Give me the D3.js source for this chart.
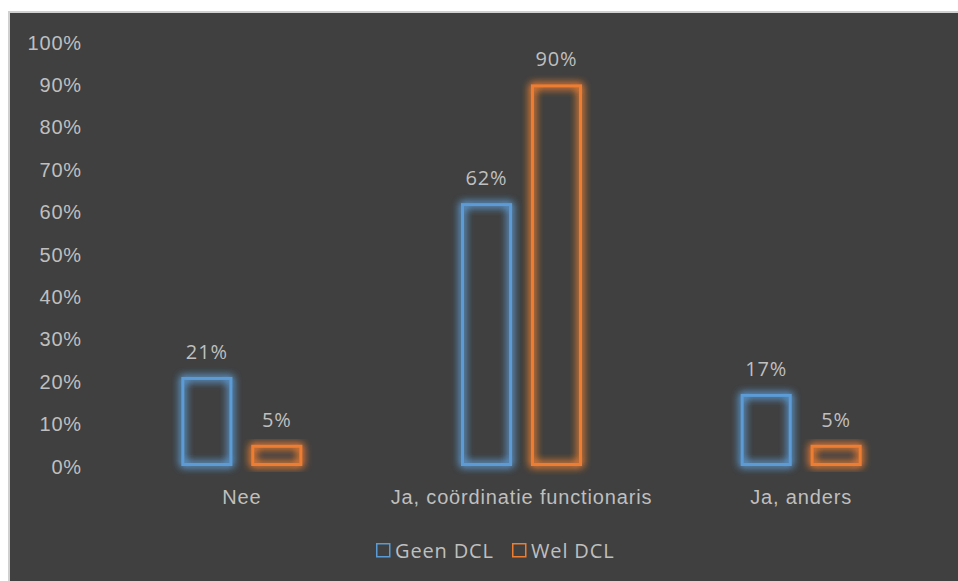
<!DOCTYPE html>
<html>
<head>
<meta charset="utf-8">
<script src="https://cdn.jsdelivr.net/npm/d3@7"></script>
<style>
  body { margin: 0; background: #fff; }
  svg { display: block; }
</style>
</head>
<body>
<div id="viz"></div>
<script>
const categories = ['Nee', 'Ja, coördinatie functionaris', 'Ja, anders'];
const seriesNames = ['Geen DCL', 'Wel DCL'];
const geenDcl = [0.21, 0.62, 0.17];
const welDcl = [0.05, 0.90, 0.05];
const yTicks = [0, 0.1, 0.2, 0.3, 0.4, 0.5, 0.6, 0.7, 0.8, 0.9, 1.0];

const W = 958, H = 581;
const bgColour = '#404040';
const textColour = '#bfbfbf';
const colours = ['#5b9bd5', '#ed7d31'];
const fontSize = '20px';
const spacing = '0.85px';

const plot = { left: 102, right: 941, top: 42, bottom: 466 };

const svg = d3.select('#viz').append('svg')
    .attr('width', W)
    .attr('height', H)
    .style('font-family', '"Open Sans", "Noto Sans", sans-serif')
    .style('letter-spacing', spacing);

// glow filter
const defs = svg.append('defs');
const glow = defs.append('filter')
    .attr('id', 'glow')
    .attr('x', '-40%').attr('y', '-40%')
    .attr('width', '180%').attr('height', '180%');
glow.append('feGaussianBlur')
    .attr('in', 'SourceGraphic')
    .attr('stdDeviation', 4)
    .attr('result', 'blur');
glow.append('feComponentTransfer')
    .attr('in', 'blur')
    .attr('result', 'soft')
    .append('feFuncA').attr('type', 'linear').attr('slope', 2.2);
const merge = glow.append('feMerge');
merge.append('feMergeNode').attr('in', 'soft');
merge.append('feMergeNode').attr('in', 'SourceGraphic');

// chart area frame
svg.append('rect')
    .attr('x', 8).attr('y', 11)
    .attr('width', W - 8).attr('height', H - 11)
    .attr('fill', '#d0d0d0');
svg.append('rect')
    .attr('x', 10).attr('y', 13)
    .attr('width', W - 10).attr('height', H - 13)
    .attr('fill', bgColour);

const y = d3.scaleLinear()
    .domain([0, 1])
    .range([plot.bottom, plot.top]);

const x0 = d3.scaleBand()
    .domain(categories)
    .range([plot.left, plot.right]);

const x1 = d3.scaleBand()
    .domain(seriesNames)
    .range([0, 121])
    .paddingInner(0.27);

const yAxis = d3.axisLeft(y)
    .tickValues(yTicks)
    .tickFormat(d3.format('.0%'))
    .tickSize(0)
    .tickPadding(0);

const yGuide = svg.append('g')
    .attr('transform', 'translate(82,0)')
    .call(yAxis);
yGuide.select('.domain').remove();
yGuide.selectAll('text')
    .attr('fill', textColour)
    .style('font-size', fontSize)
    .attr('dy', '0.35em');

const xAxis = d3.axisBottom(x0).tickSize(0).tickPadding(0);
const xGuide = svg.append('g')
    .attr('transform', 'translate(0,' + plot.bottom + ')')
    .call(xAxis);
xGuide.select('.domain').remove();
xGuide.selectAll('text')
    .attr('fill', textColour)
    .style('font-size', fontSize)
    .attr('dy', '0')
    .attr('y', 38);

const rows = categories.map((c, i) => ({
    cat: c,
    values: [geenDcl[i], welDcl[i]]
}));

const groups = svg.append('g').selectAll('g')
    .data(rows)
    .enter().append('g')
    .attr('transform', d => 'translate(' + (x0(d.cat) + x0.bandwidth() / 2 - 60.5) + ',0)');

groups.selectAll('rect')
    .data(d => d.values.map((v, j) => ({ name: seriesNames[j], v: v, j: j })))
    .enter().append('rect')
    .attr('x', d => x1(d.name) + 1.5)
    .attr('y', d => y(d.v) + 1.5)
    .attr('width', x1.bandwidth() - 3)
    .attr('height', d => y(0) - y(d.v) - 3)
    .attr('fill', 'none')
    .attr('stroke', d => colours[d.j])
    .attr('stroke-width', 3)
    .attr('filter', 'url(#glow)');

groups.selectAll('text')
    .data(d => d.values.map((v, j) => ({ name: seriesNames[j], v: v })))
    .enter().append('text')
    .attr('x', d => x1(d.name) + x1.bandwidth() / 2)
    .attr('y', d => y(d.v) - 18)
    .attr('text-anchor', 'middle')
    .attr('fill', textColour)
    .style('font-size', fontSize)
    .text(d => d3.format('.0%')(d.v));

// legend
const legendX = [376, 512];
const legend = svg.append('g').selectAll('g')
    .data(seriesNames)
    .enter().append('g')
    .attr('transform', (d, i) => 'translate(' + legendX[i] + ',543)');
legend.append('rect')
    .attr('x', 0.75).attr('y', 0.75)
    .attr('width', 13).attr('height', 13)
    .attr('fill', 'none')
    .attr('stroke', (d, i) => colours[i])
    .attr('stroke-width', 1.5);
legend.append('text')
    .attr('x', 19)
    .attr('y', 15)
    .attr('fill', textColour)
    .style('font-size', fontSize)
    .text(d => d);
</script>
</body>
</html>
